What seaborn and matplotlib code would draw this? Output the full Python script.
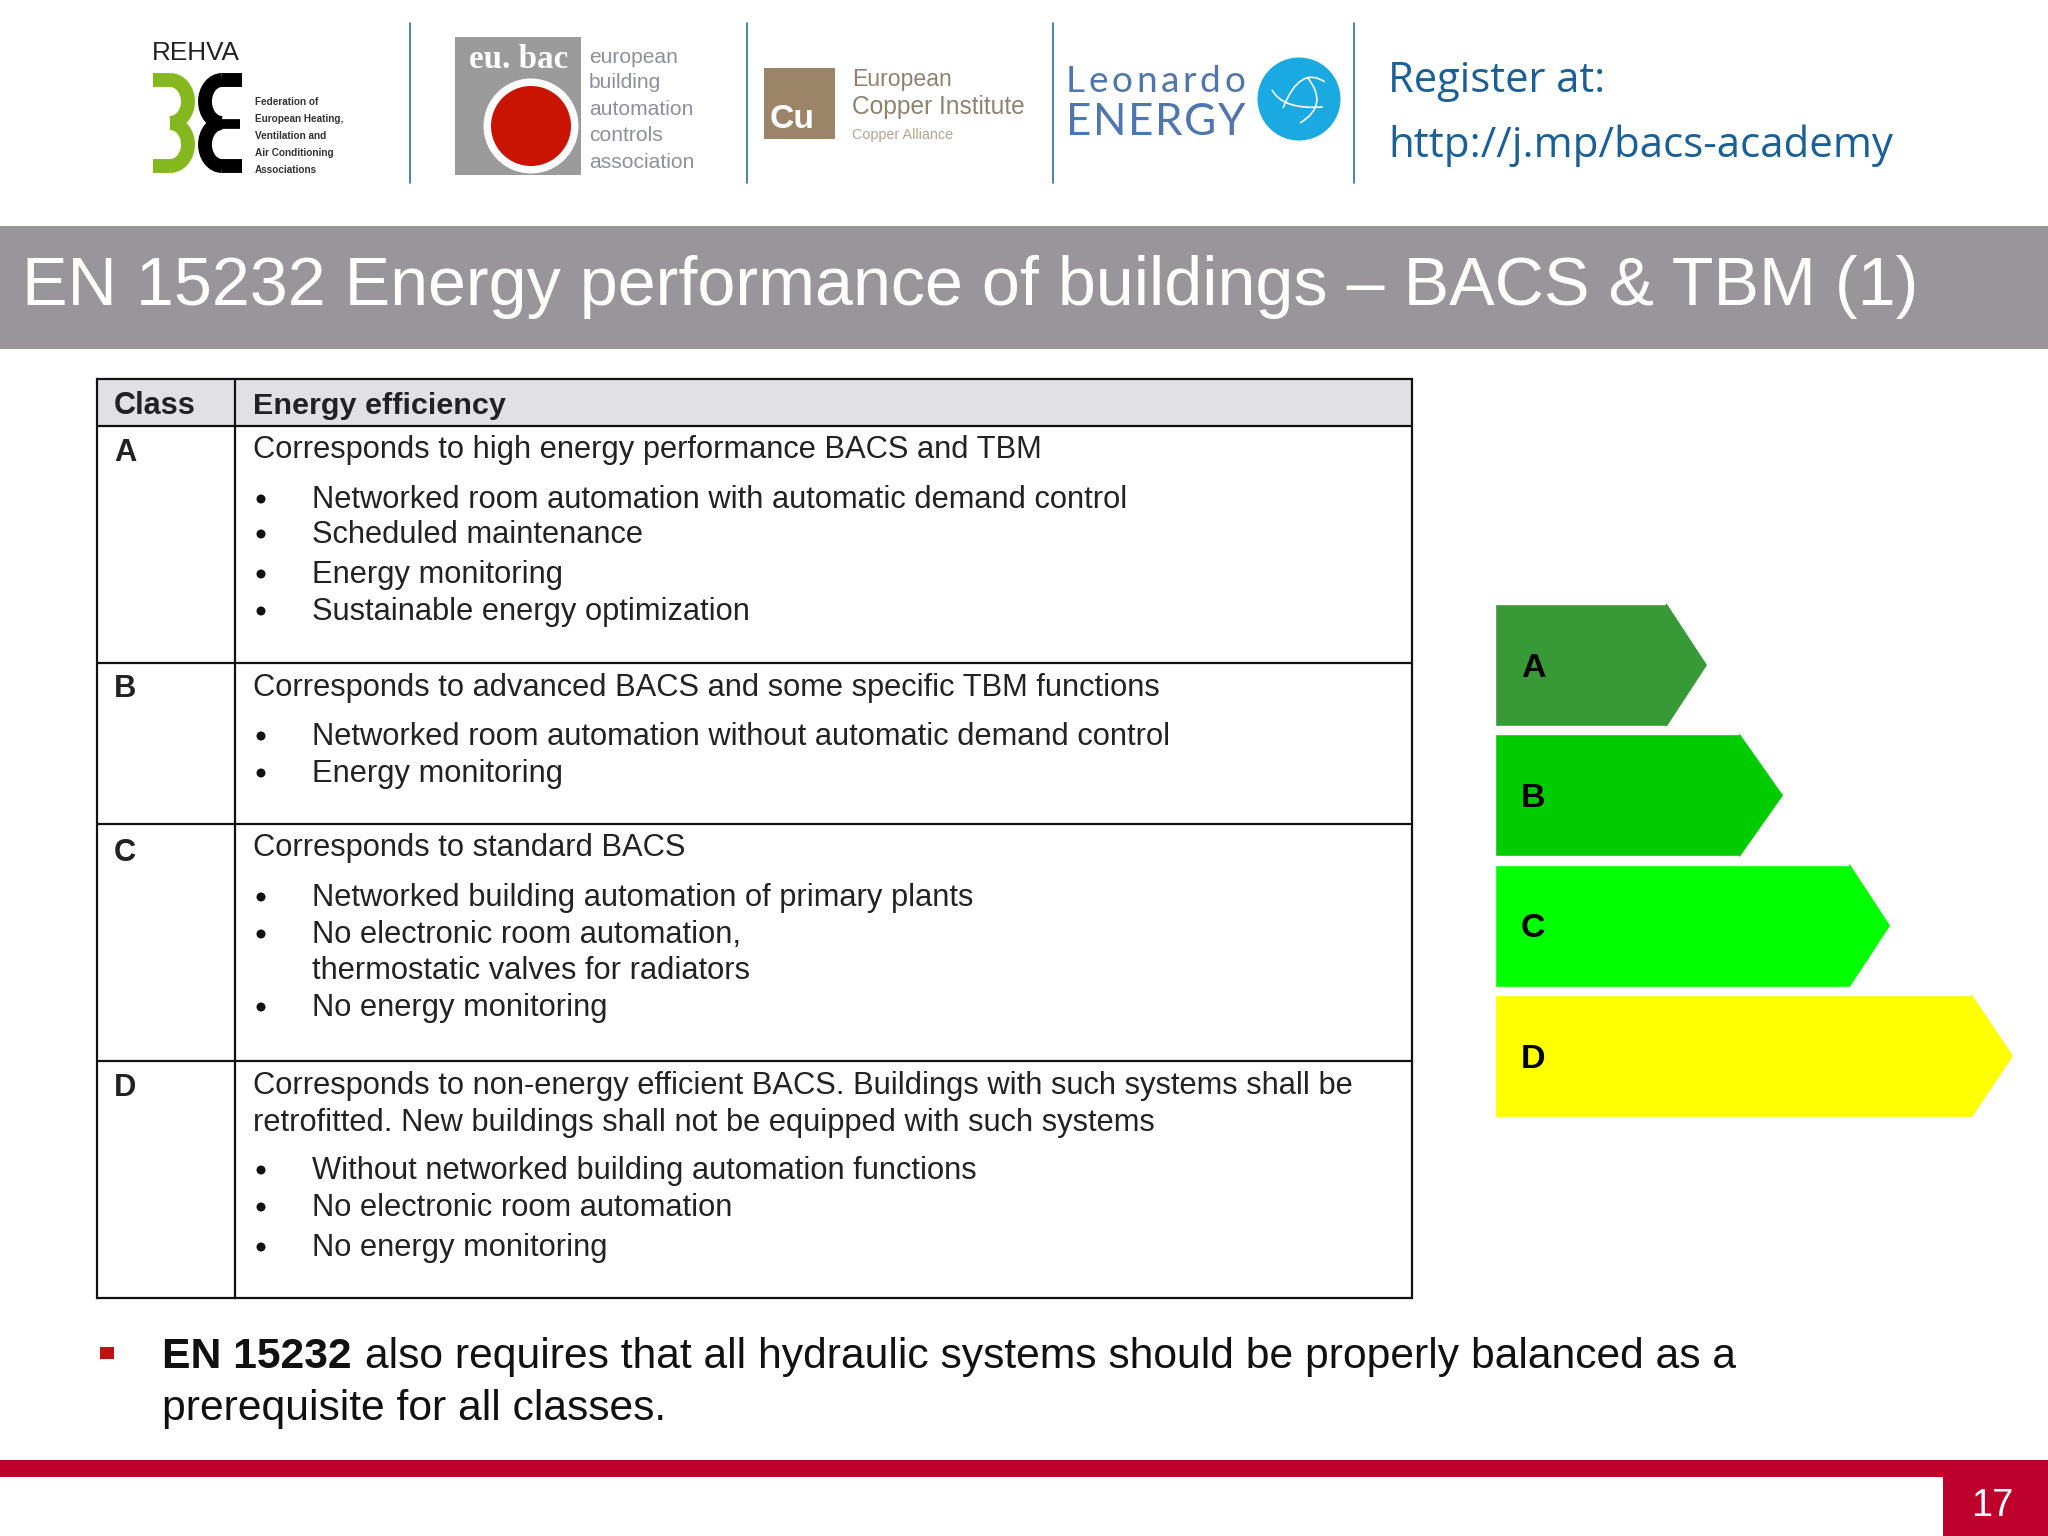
import pandas as pd
import seaborn as sns
import matplotlib.pyplot as plt
from matplotlib.path import Path
from matplotlib.patches import Rectangle, Circle, Arc, PathPatch

# -----------------------
# 1. Chart values
# -----------------------

classes = ["A", "B", "C", "D"]
bar_lengths = [172, 245, 355, 477]
tip_lengths = [40, 43, 40, 41]
class_colors = ["#379a37", "#00cc00", "#00ff00", "#ffff00"]

title = "EN 15232 Energy performance of buildings – BACS & TBM (1)"
table_header = ["Class", "Energy efficiency"]

# class label with its baseline
class_labels = [("A", 461), ("B", 697), ("C", 861), ("D", 1096)]

# plain lines of the table: text, baseline
intro_lines = [
    ("Corresponds to high energy performance BACS and TBM", 458),
    ("Corresponds to advanced BACS and some specific TBM functions", 696),
    ("Corresponds to standard BACS", 856),
    ("Corresponds to non-energy efficient BACS. Buildings with such systems shall be", 1094),
    ("retrofitted. New buildings shall not be equipped with such systems", 1131),
]
bullet_lines = [
    ("Networked room automation with automatic demand control", 508, True),
    ("Scheduled maintenance", 543, True),
    ("Energy monitoring", 583, True),
    ("Sustainable energy optimization", 620, True),
    ("Networked room automation without automatic demand control", 745, True),
    ("Energy monitoring", 782, True),
    ("Networked building automation of primary plants", 906, True),
    ("No electronic room automation,", 943, True),
    ("thermostatic valves for radiators", 979, False),
    ("No energy monitoring", 1016, True),
    ("Without networked building automation functions", 1179, True),
    ("No electronic room automation", 1216, True),
    ("No energy monitoring", 1256, True),
]
row_lines = [379, 426, 663, 824, 1061, 1298]

# -----------------------
# 2. Figure, page axes in pixels
# -----------------------

sns.set_theme(style="white")
plt.rcParams["font.family"] = ["Liberation Sans", "DejaVu Sans"]

fig = plt.figure(figsize=(20.48, 15.36), dpi=100, facecolor="white")
ax = fig.add_axes([0, 0, 1, 1])
ax.set_xlim(0, 2048)
ax.set_ylim(1536, 0)
ax.axis("off")
renderer = fig.canvas.get_renderer()


def put(x, y, s, px=20, width=None, **kw):
    """Text at pixel size, optionally scaled to a measured width."""
    kw.setdefault("va", "baseline")
    t = ax.text(x, y, s, fontsize=px * 0.72, **kw)
    if width is not None:
        t.set_fontsize(t.get_fontsize() * width / t.get_window_extent(renderer).width)
    return t


def spaced(x, y, s, px, end, **kw):
    """Letter by letter, gaps stretched so the word ends at x = end."""
    letters = [put(0, y, c, px=px, **kw) for c in s]
    sizes = [t.get_window_extent(renderer).width for t in letters]
    gap = (end - x - sum(sizes)) / (len(s) - 1)
    for t, w in zip(letters, sizes):
        t.set_x(x)
        x += w + gap


def curve(p0, p1, p2, lw=1.2):
    ax.add_patch(PathPatch(Path([p0, p1, p2], [Path.MOVETO, Path.CURVE3, Path.CURVE3]),
                           fill=False, edgecolor="white", lw=lw))


# -----------------------
# 3. Logo strip
# -----------------------

for x in [410, 747, 1053, 1354]:
    ax.plot([x, x], [23, 183], color="#2f6f8f", lw=1.2)

# REHVA
put(152, 60, "REHVA", px=25, width=88, color="#222222")
STROKE = 10
for cy in [101.5, 144.5]:
    ax.add_patch(Arc((170, cy), 36, 43, theta1=-90, theta2=90, color="#85b81e", lw=STROKE))
    ax.add_patch(Arc((222, cy), 34, 43, theta1=90, theta2=270, color="#000000", lw=STROKE))
for y in [80, 166]:
    ax.plot([153, 170], [y, y], color="#85b81e", lw=STROKE, solid_capstyle="butt")
    ax.plot([222, 242], [y, y], color="#000000", lw=STROKE, solid_capstyle="butt")
ax.plot([222, 240], [124, 124], color="#000000", lw=7, solid_capstyle="butt")

rehva_lines = ["Federation of", "European Heating,", "Ventilation and", "Air Conditioning", "Associations"]
fit = put(255, 123, rehva_lines[1], width=88, fontweight="bold")
rehva_px = fit.get_fontsize() / 0.72
fit.remove()
for s, y in zip(rehva_lines, [105, 122, 139, 156, 173]):
    put(255, y, s, px=rehva_px, fontweight="bold", color="#333333")

# eu.bac
ax.add_patch(Rectangle((455, 37), 126, 138, color="#9b9b9b", lw=0))
ax.add_patch(Circle((531, 126), 47.5, color="white", lw=0))
ax.add_patch(Circle((531, 126), 40, color="#c81400", lw=0))
put(469, 68, "eu. bac", px=30, width=99, color="white", fontweight="bold",
    family=["Liberation Serif", "Liberation Sans"])
eubac_lines = ["european", "building", "automation", "controls", "association"]
for s, y in zip(eubac_lines, [63, 88, 115, 141, 168]):
    put(589, y, s, px=21, color="#8f8f98")

# Copper institute
ax.add_patch(Rectangle((764, 68), 71, 71, color="#9c8468", lw=0))
put(770, 128, "Cu", px=38, width=45, color="white", fontweight="bold")
put(852, 86, "European", px=28, width=100, color="#8f8270")
put(852, 114, "Copper Institute", px=28, width=173, color="#8f8270")
put(852, 139, "Copper Alliance", px=16, width=101, color="#b0a690")

# Leonardo
spaced(1066, 92, "Leonardo", 37, 1245, color="#4f76ae", family=["Lato", "Liberation Sans"])
spaced(1066, 135, "ENERGY", 44, 1245, color="#4f76ae", family=["Lato", "Liberation Sans"])
ax.add_patch(Circle((1299, 99), 41.5, color="#1ba9e1", lw=0))
curve((1272, 90), (1283, 110), (1323, 107))
curve((1325, 82), (1300, 65), (1283, 108))
curve((1307, 77), (1330, 105), (1300, 123))

# Register
OPEN = ["Open Sans", "DejaVu Sans"]
put(1388, 92, "Register at:", px=44, width=217, color="#1a5f96", family=OPEN, fontweight="medium")
put(1388, 157, "http://j.mp/bacs-academy", px=44, width=505, color="#1a5f96", family=OPEN, fontweight="medium")

# -----------------------
# 4. Title band
# -----------------------

ax.add_patch(Rectangle((0, 226), 2048, 123, color="#98969a", lw=0))
put(22, 305, title, px=74, width=1897, color="white")

# -----------------------
# 5. Table
# -----------------------

ax.add_patch(Rectangle((97, 379), 1315, 47, color="#e1e1e4", lw=0))
for y in row_lines:
    ax.plot([97, 1412], [y, y], color="#111111", lw=1.6, solid_capstyle="butt")
for x in [97, 235, 1412]:
    ax.plot([x, x], [379, 1298], color="#111111", lw=1.6, solid_capstyle="projecting")

put(114, 414, table_header[0], px=28, width=82, fontweight="bold", color="#222222")
put(253, 414, table_header[1], px=28, width=253, fontweight="bold", color="#222222")

fit = put(312, 507, bullet_lines[0][0], width=815, color="#222222")
body_px = fit.get_fontsize() / 0.72
fit.remove()

for s, y in class_labels:
    put(114, y, s, px=body_px, fontweight="bold", color="#222222")
for s, y in intro_lines:
    put(253, y, s, px=body_px, color="#222222")
for s, y, has_bullet in bullet_lines:
    put(312, y, s, px=body_px, color="#222222")
    if has_bullet:
        ax.add_patch(Circle((261, y - 9), 4.5, color="#111111", lw=0))

# -----------------------
# 6. Energy class arrows
# -----------------------

df = pd.DataFrame({"energy_class": classes, "length": bar_lengths})

bar_ax = fig.add_axes([1495 / 2048, 1 - 1121 / 1536, 553 / 2048, 521 / 1536])
sns.barplot(
    data=df,
    x="length",
    y="energy_class",
    hue="energy_class",
    palette=class_colors,
    width=0.938,
    saturation=1,
    legend=False,
    ax=bar_ax,
)
bar_ax.set_xlim(0, 553)
bar_ax.set_ylim(3.5, -0.5)
bar_ax.axis("off")
bar_ax.patch.set_alpha(0)

for i, (name, length, tip, color) in enumerate(zip(classes, bar_lengths, tip_lengths, class_colors)):
    half = 0.938 / 2
    # tip overlaps the bar by a pixel so no seam shows
    bar_ax.fill([length - 1, length, length + tip, length, length - 1],
                [i - half, i - half, i, i + half, i + half], color=color, lw=0)
    bar_ax.text(26, i + 0.09, name, fontsize=24.5, fontweight="bold", color="black", ha="left", va="baseline")

# -----------------------
# 7. Bullet note and footer
# -----------------------

ax.add_patch(Rectangle((100, 1347), 14, 12, color="#c01010", lw=0))
fit = put(162, 1420, "prerequisite for all classes.", width=507, color="#111111")
note_px = fit.get_fontsize() / 0.72
bold = put(162, 1368, "EN 15232", px=note_px, fontweight="bold", color="#111111")
bold_end = ax.transData.inverted().transform(bold.get_window_extent(renderer))[1][0]
put(bold_end + 13, 1368, "also requires that all hydraulic systems should be properly balanced as a",
    px=note_px, width=1372, color="#111111")

ax.add_patch(Rectangle((0, 1460), 2048, 17, color="#be002d", lw=0))
ax.add_patch(Rectangle((1943, 1460), 105, 76, color="#be002d", lw=0))
put(1992, 1516, "17", px=38, color="white", ha="center")

fig.savefig("out.png", dpi=100, facecolor="white")
